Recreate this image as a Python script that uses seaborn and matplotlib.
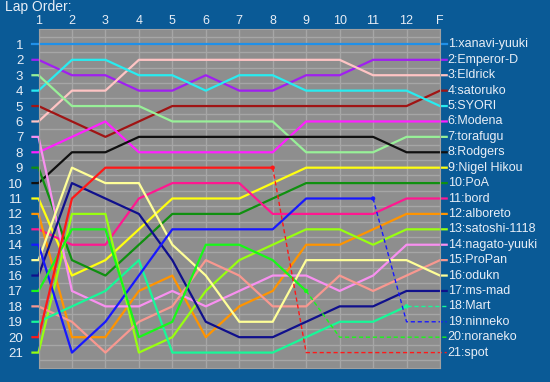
import matplotlib
matplotlib.use('Agg')
import matplotlib.pyplot as plt
import pandas as pd
import seaborn as sns

laps = ['1', '2', '3', '4', '5', '6', '7', '8', '9', '10', '11', '12', 'F']
drivers = ['xanavi-yuuki', 'Emperor-D', 'Eldrick', 'satoruko', 'SYORI', 'Modena',
           'torafugu', 'Rodgers', 'Nigel Hikou', 'PoA', 'bord', 'alboreto',
           'satoshi-1118', 'nagato-yuuki', 'ProPan', 'odukn', 'ms-mad', 'Mart',
           'ninneko', 'noraneko', 'spot']
# running order of each driver after every lap (same order as drivers)
positions = [
    [1, 1, 1, 1, 1, 1, 1, 1, 1, 1, 1, 1, 1],
    [2, 3, 3, 4, 4, 3, 4, 4, 3, 3, 2, 2, 2],
    [6, 4, 4, 2, 2, 2, 2, 2, 2, 2, 3, 3, 3],
    [5, 6, 7, 6, 5, 5, 5, 5, 5, 5, 5, 5, 4],
    [4, 2, 2, 3, 3, 4, 3, 3, 4, 4, 4, 4, 5],
    [8, 7, 6, 8, 8, 8, 8, 8, 6, 6, 6, 6, 6],
    [3, 5, 5, 5, 6, 6, 6, 6, 8, 8, 8, 7, 7],
    [10, 8, 8, 7, 7, 7, 7, 7, 7, 7, 7, 8, 8],
    [11, 16, 15, 13, 11, 11, 11, 10, 9, 9, 9, 9, 9],
    [9, 15, 16, 14, 12, 12, 12, 11, 10, 10, 10, 10, 10],
    [13, 14, 14, 11, 10, 10, 10, 12, 12, 12, 12, 11, 11],
    [12, 20, 20, 17, 16, 20, 18, 17, 14, 14, 13, 12, 12],
    [21, 12, 12, 21, 20, 17, 15, 14, 13, 13, 14, 13, 13],
    [7, 17, 18, 18, 17, 18, 17, 16, 16, 17, 16, 14, 14],
    [18, 19, 21, 19, 18, 15, 16, 18, 18, 16, 17, 16, 15],
    [15, 9, 10, 10, 14, 16, 19, 19, 15, 15, 15, 15, 16],
    [16, 10, 11, 12, 15, 19, 20, 20, 19, 18, 18, 17, 17],
    [19, 18, 17, 15, 21, 21, 21, 21, 20, 19, 19, 18, 18],
    [14, 21, 19, 16, 13, 13, 13, 13, 11, 11, 11, 19, 19],
    [17, 13, 13, 20, 19, 14, 14, 15, 17, 20, 20, 20, 20],
    [20, 11, 9, 9, 9, 9, 9, 9, 21, 21, 21, 21, 21],
]
# last lap completed before dropping out
retired_after = {'spot': '8', 'noraneko': '9', 'ninneko': '11', 'Mart': '12'}

colors = ['#2090e8', '#a020f0', '#ffc4c4', '#a01414', '#28ecf0', '#ff20ff',
          '#98f098', '#101010', '#ffff10', '#109010', '#ff1890', '#ff9400',
          '#98ff10', '#f890f0', '#f89890', '#ffff98', '#10108c', '#18f898',
          '#1818ff', '#18f818', '#ff1818']
palette = dict(zip(drivers, colors))

bg = '#0a5a96'
txt = '#e8eef6'
plt.rcParams['font.family'] = ['Liberation Sans', 'DejaVu Sans']

solid_rows, dash_rows, marks = [], [], []
last = len(laps) - 1
for d, pos in zip(drivers, positions):
    xs = [-0.18] + list(range(len(laps))) + [last + 0.2]
    ys = [pos[0]] + pos + [pos[-1]]
    if d in retired_after:
        r = laps.index(retired_after[d]) + 1  # index in xs
        for x, y in zip(xs[:r + 1], ys[:r + 1]):
            solid_rows.append((d, x, y))
        for x, y in zip(xs[r:], ys[r:]):
            dash_rows.append((d, x, y))
        marks.append((d, xs[r], ys[r]))
    else:
        for x, y in zip(xs, ys):
            solid_rows.append((d, x, y))

solid = pd.DataFrame(solid_rows, columns=['driver', 'lap', 'pos'])
dashed = pd.DataFrame(dash_rows, columns=['driver', 'lap', 'pos'])
marks = pd.DataFrame(marks, columns=['driver', 'lap', 'pos'])

fig = plt.figure(figsize=(5.5, 3.82), dpi=100, facecolor=bg)
ax = fig.add_axes([38.5 / 550, 1 - 368 / 382, (440 - 38.5) / 550, (368 - 29) / 382])
ax.set_facecolor('#8e8e8e')

sns.lineplot(data=solid, x='lap', y='pos', hue='driver', palette=palette,
             estimator=None, sort=False, legend=False, lw=1.6, clip_on=False, ax=ax)
sns.lineplot(data=dashed, x='lap', y='pos', hue='driver', palette=palette,
             estimator=None, sort=False, legend=False, lw=1.0, ls=(0, (3, 2)),
             clip_on=False, ax=ax)
sns.scatterplot(data=marks, x='lap', y='pos', hue='driver', palette=palette,
                s=10, linewidth=0, legend=False, clip_on=False, ax=ax, zorder=5)

ax.set_xlim(0, last)
ax.set_ylim(22, 0)
ax.set_xticks(range(len(laps)))
ax.set_xticklabels(laps)
ax.xaxis.tick_top()
ax.set_yticks(range(1, len(drivers) + 1))
ax.set_yticks([i + 0.5 for i in range(22)], minor=True)
ax.tick_params(axis='x', length=0, pad=1.5, labelsize=9, colors=txt)
ax.tick_params(axis='y', which='both', length=0, pad=11, labelsize=9.5, colors=txt)
ax.grid(axis='x', color='#a6a6a6', lw=1)
ax.grid(axis='y', which='minor', color='#a6a6a6', lw=1)
ax.set_axisbelow(True)
ax.set_xlabel('')
ax.set_ylabel('')
for s in ax.spines.values():
    s.set_color('#a0a0a0')

# finishing order labels on the right
for d, pos in zip(drivers, positions):
    ax.text(last + 0.23, pos[-1], f'{pos[-1]}:{d}', color=txt, fontsize=9,
            va='center', ha='left', clip_on=False)

fig.text(5 / 550, 1 - 7 / 382, 'Lap Order:', color=txt, fontsize=10,
         ha='left', va='center')

fig.savefig('out.png', dpi=100, facecolor=bg)
